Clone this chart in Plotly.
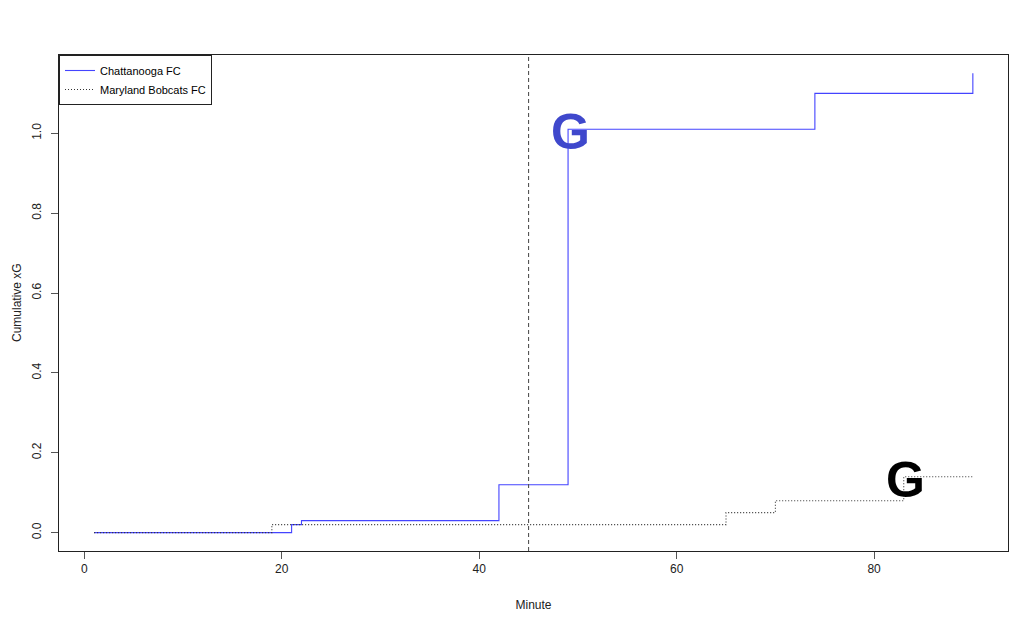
import plotly.graph_objects as go

# Data
chat_min = [1, 21, 22, 42, 49, 74, 90, 90]
chat_xg = [0.0, 0.02, 0.03, 0.12, 1.01, 1.10, 1.10, 1.15]
mary_min = [1, 19, 65, 70, 83, 90]
mary_xg = [0.0, 0.02, 0.05, 0.08, 0.14, 0.14]
chat_goal_min = [49]
chat_goal_xg = [1.01]
mary_goal_min = [83]
mary_goal_xg = [0.14]
half_time = 45
x_ticks = [0, 20, 40, 60, 80]
y_ticks = [0.0, 0.2, 0.4, 0.6, 0.8, 1.0]

fig = go.Figure()
fig.add_trace(go.Scatter(x=chat_min, y=chat_xg, mode="lines", line_shape="hv",
                         line=dict(color="#4444ff", width=1.1), name="Chattanooga FC"))
fig.add_trace(go.Scatter(x=mary_min, y=mary_xg, mode="lines", line_shape="hv",
                         line=dict(color="#333333", width=1.1, dash="1px,2px"), name="Maryland Bobcats FC"))

for gx, gy, col in [(chat_goal_min, chat_goal_xg, "#3f48cc"), (mary_goal_min, mary_goal_xg, "black")]:
    for xv, yv in zip(gx, gy):
        fig.add_annotation(x=xv, y=yv, text="<b>G</b>", showarrow=False,
                           xanchor="center", yanchor="middle", xshift=2, yshift=-3,
                           font=dict(family="Liberation Sans", size=50, color=col))

fig.add_shape(type="line", x0=half_time, x1=half_time, y0=0, y1=1, yref="paper",
              line=dict(color="#555555", width=1.1, dash="4px,3px"))

# y-axis title
fig.add_annotation(x=0, y=0.5, xref="paper", yref="paper", text="Cumulative xG", textangle=-90,
                   showarrow=False, xanchor="center", yanchor="middle", xshift=-42,
                   font=dict(family="Liberation Sans", size=12, color="#222222"))

axis_common = dict(showgrid=False, zeroline=False, showline=True, linecolor="#222222", linewidth=1,
                   mirror=True, ticks="outside", ticklen=7, tickcolor="#555555",
                   tickfont=dict(family="Liberation Sans", size=12, color="#222222"))
fig.update_xaxes(range=[-2.56, 93.56], tickvals=x_ticks, ticktext=[str(v) for v in x_ticks],
                 title=dict(text="Minute", font=dict(family="Liberation Sans", size=12, color="#222222"), standoff=25),
                 **axis_common)
fig.update_yaxes(range=[-0.046, 1.196], tickvals=y_ticks, ticktext=[f"{v:.1f}" for v in y_ticks],
                 tickangle=-90, ticklabelstandoff=5,
                 **axis_common)

fig.update_layout(
    width=1016, height=609,
    margin=dict(l=51, r=16, t=47, b=66, autoexpand=False),
    plot_bgcolor="white", paper_bgcolor="white",
    font=dict(family="Liberation Sans", size=12, color="black"),
    legend=dict(x=0, y=1, xanchor="left", yanchor="top", bordercolor="#222222", borderwidth=1,
                bgcolor="white", font=dict(family="Liberation Sans", size=11, color="black"),
                tracegroupgap=0, itemwidth=30),
)

fig.write_html("out.html")
